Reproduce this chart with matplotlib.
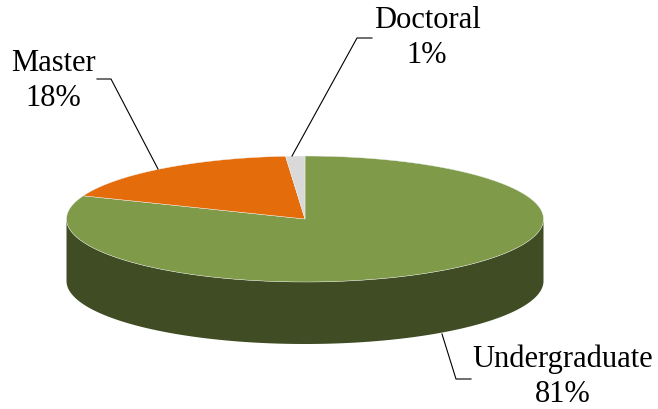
import numpy as np
import matplotlib.pyplot as plt
from matplotlib.patches import Polygon

# data
labels = ["Undergraduate", "Master", "Doctoral"]
values = [81.0, 17.7, 1.3]
top_colors = ["#7F9B4A", "#E46C0A", "#D9D9D9"]
side_colors = ["#404C24", "#7A3A05", "#8C8C8C"]

# pie geometry (pixels)
cx, cy = 305, 220
rx, ry = 238.5, 63
depth = 62

fig = plt.figure(figsize=(6.58, 4.10), dpi=100)
ax = fig.add_axes([0, 0, 1, 1])
ax.set_xlim(0, 658)
ax.set_ylim(410, 0)
ax.axis("off")


def pt(t, dy=0):
    return cx + rx * np.cos(t), cy - ry * np.sin(t) + dy


# slice angles: start at 12 o'clock, clockwise
fracs = np.array(values) / sum(values)
bounds = np.pi / 2 - 2 * np.pi * np.concatenate([[0], np.cumsum(fracs)])

# side walls (only the front half, angles between pi and 2pi)
for i in range(len(values)):
    t1, t0 = bounds[i + 1], bounds[i]
    for shift in (0, -2 * np.pi, 2 * np.pi):
        a, b = t1 + shift, t0 + shift
        lo, hi = max(a, -np.pi), min(b, 0)
        if hi > lo:
            ts = np.linspace(lo, hi, 200)
            xs, ys = pt(ts)
            xb, yb = pt(ts[::-1], depth)
            poly = np.column_stack([np.concatenate([xs, xb]), np.concatenate([ys, yb])])
            ax.add_patch(Polygon(poly, closed=True, facecolor=side_colors[i],
                                 edgecolor="none", zorder=1))

# top faces
for i in range(len(values)):
    ts = np.linspace(bounds[i + 1], bounds[i], 400)
    xs, ys = pt(ts)
    poly = np.column_stack([np.concatenate([[cx], xs]), np.concatenate([[cy], ys])])
    ax.add_patch(Polygon(poly, closed=True, facecolor=top_colors[i],
                         edgecolor="#F2F2F2", linewidth=0.3, zorder=2))

# labels with leader lines
lab_font = dict(family="Liberation Serif", fontsize=22, ha="center", va="center")
label_pos = {
    "Undergraduate": dict(text=(563, 377), line=[(442, 335), (456, 380), (471, 380)]),
    "Master": dict(text=(53, 81), line=[(158, 170), (111, 80), (97, 80)]),
    "Doctoral": dict(text=(427, 38), line=[(292, 157), (357, 39), (372, 39)]),
}
for lab, v in zip(labels, values):
    info = label_pos[lab]
    ax.text(info["text"][0], info["text"][1], f"{lab}\n{v:.0f}%",
            linespacing=1.25, zorder=3, **lab_font)
    lx, ly = zip(*info["line"])
    ax.plot(lx, ly, color="black", linewidth=0.8, zorder=3)

fig.savefig("out.png", dpi=100)
